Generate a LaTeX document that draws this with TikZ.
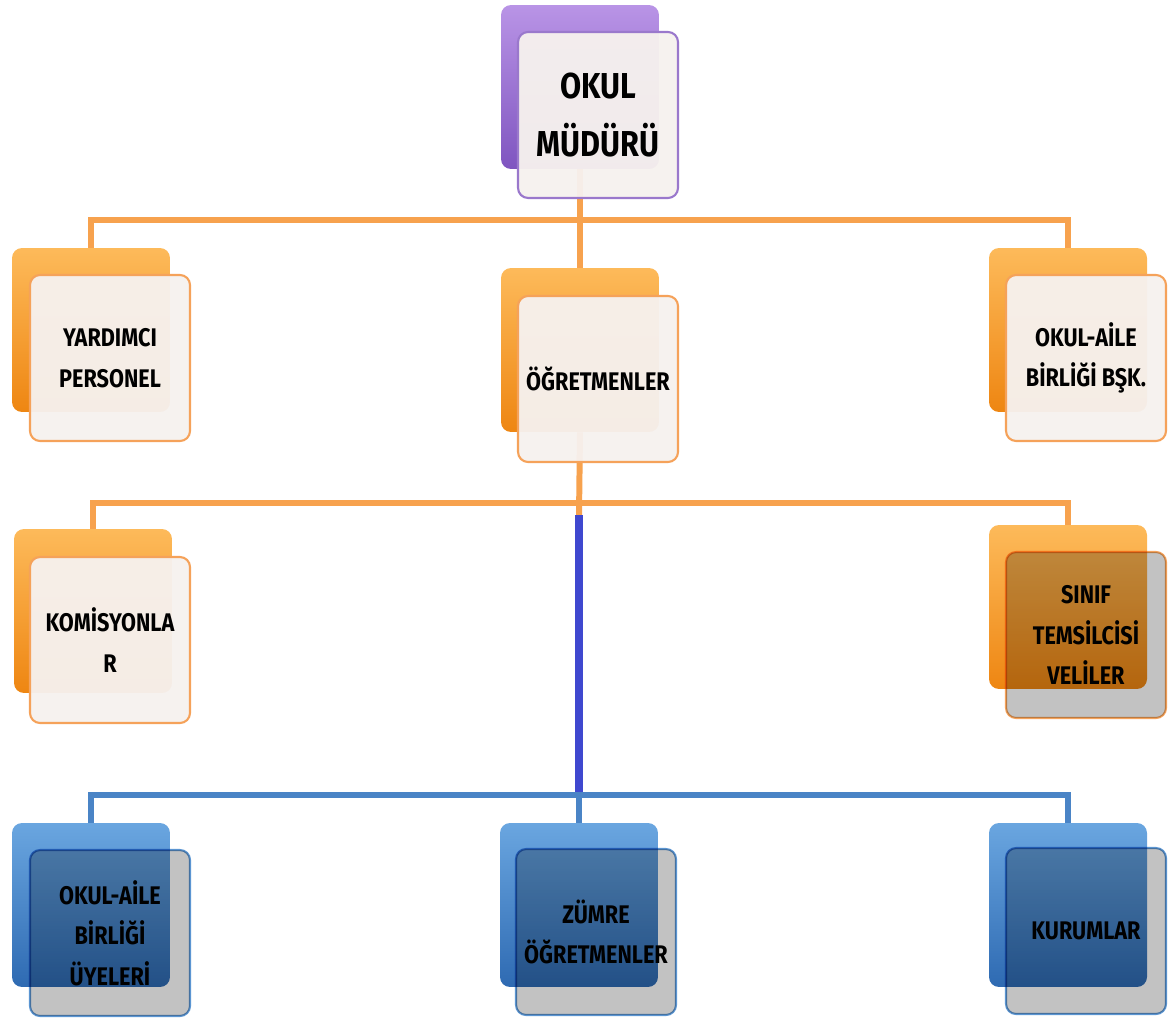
\documentclass[tikz,border=0pt]{standalone}
\usepackage{fontspec}
\setmainfont{Fira Sans}[FakeStretch=0.85]
\usetikzlibrary{backgrounds}

\definecolor{morUst}{HTML}{B994E6}
\definecolor{morOrta}{HTML}{9066CC}
\definecolor{morAlt}{HTML}{7F55C0}
\definecolor{morKenar}{HTML}{9A78CC}
\definecolor{turuncuUst}{HTML}{FDBA5A}
\definecolor{turuncuOrta}{HTML}{F7951F}
\definecolor{turuncuAlt}{HTML}{EE8612}
\definecolor{turuncuKenar}{HTML}{F5A25A}
\definecolor{maviUst}{HTML}{6AA6E0}
\definecolor{maviOrta}{HTML}{3D7FC8}
\definecolor{maviAlt}{HTML}{2E6AB2}
\definecolor{maviKenar}{HTML}{5B95D2}
\definecolor{krem}{HTML}{F6F1EE}
\definecolor{cizgiTuruncu}{HTML}{F7A24E}
\definecolor{cizgiMavi}{HTML}{4A84C6}
\definecolor{cizgiLacivert}{HTML}{3F48CF}

\tikzset{
    arka/.style={rounded corners=0.2cm, minimum width=3.16cm, minimum height=3.28cm},
    on/.style={rounded corners=0.2cm, minimum width=3.2cm, minimum height=3.32cm,
        line width=1.2pt, align=center, font=\bfseries\fontsize{14.5}{23}\selectfont},
    morArka/.style={arka, top color=morUst, middle color=morOrta, bottom color=morAlt},
    turuncuArka/.style={arka, top color=turuncuUst, middle color=turuncuOrta, bottom color=turuncuAlt},
    maviArka/.style={arka, top color=maviUst, middle color=maviOrta, bottom color=maviAlt},
    onAcik/.style={on, fill=krem, fill opacity=0.96, text opacity=1},
    onKoyu/.style={on, fill=black!24, blend mode=multiply},
    turuncuHat/.style={cizgiTuruncu, line width=3.4pt},
    maviHat/.style={cizgiMavi, line width=3.4pt},
}

\begin{document}
\begin{tikzpicture}[x=0.02cm, y=-0.02cm]
    \useasboundingbox (0,0) rectangle (1168,1023);

    % ust kutu
    \node[morArka] (mudurArka) at (580,87) {};
    \node[onAcik, draw=morKenar, font=\bfseries\fontsize{20.5}{33}\selectfont] (mudur) at (598,115) {OKUL\\MÜDÜRÜ};

    % ikinci sira
    \node[turuncuArka] (yardimciArka) at (91,330) {};
    \node[onAcik, draw=turuncuKenar] (yardimci) at (110,358) {YARDIMCI\\PERSONEL};
    \node[turuncuArka] (ogretmenArka) at (580,350) {};
    \node[onAcik, draw=turuncuKenar] (ogretmen) at (598,379) {ÖĞRETMENLER};
    \node[turuncuArka] (baskanArka) at (1068,330) {};
    \node[onAcik, draw=turuncuKenar] (baskan) at (1086,358) {OKUL-AİLE\\BİRLİĞİ BŞK.};

    % ucuncu sira
    \node[turuncuArka] (komisyonArka) at (93,611) {};
    \node[onAcik, draw=turuncuKenar] (komisyon) at (110,640) {KOMİSYONLA\\R};
    \node[turuncuArka] (veliArka) at (1068,607) {};
    \node[onKoyu, draw=turuncuKenar] (veli) at (1086,635) {SINIF\\TEMSİLCİSİ\\VELİLER};

    % alt sira
    \node[maviArka] (uyeArka) at (91,905) {};
    \node[onKoyu, draw=maviKenar] (uye) at (110,933) {OKUL-AİLE\\BİRLİĞİ\\ÜYELERİ};
    \node[maviArka] (zumreArka) at (579,905) {};
    \node[onKoyu, draw=maviKenar] (zumre) at (596,932) {ZÜMRE\\ÖĞRETMENLER};
    \node[maviArka] (kurumArka) at (1068,905) {};
    \node[onKoyu, draw=maviKenar] (kurum) at (1086,931) {KURUMLAR};

    \coordinate (kol1) at (580,220);
    \coordinate (kol2) at (580,503);
    \coordinate (lacivertUst) at (579,515);
    \coordinate (kol3) at (579,795);

    \begin{pgfonlayer}{background}
        \draw[turuncuHat] (mudurArka.south) -- (ogretmenArka.north);
        \draw[turuncuHat] (yardimciArka.north) |- (kol1) -| (baskanArka.north);
        \draw[turuncuHat] (ogretmenArka.south) -- (lacivertUst);
        \draw[turuncuHat] (komisyonArka.north) |- (kol2) -| (veliArka.north);
        \draw[cizgiLacivert, line width=4.6pt] (lacivertUst) -- (kol3);
        \draw[maviHat] (uyeArka.north) |- (kol3) -| (kurumArka.north);
        \draw[maviHat] (kol3) -- (zumreArka.north);
    \end{pgfonlayer}
\end{tikzpicture}
\end{document}
